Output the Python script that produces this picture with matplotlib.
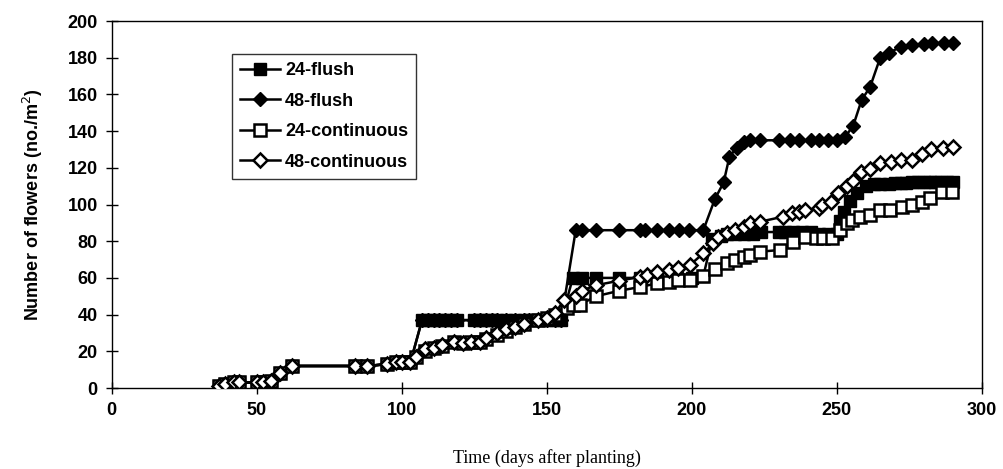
import matplotlib.pyplot as plt

# ---- data ----
early_days = [37, 39, 42, 44, 50, 52, 55, 58, 62, 84, 88, 95, 98, 100, 103]
early_vals = [1, 2, 3, 3, 3, 3, 4, 8, 12, 12, 12, 13, 14, 14, 14]

flush_mid_days = [107, 109, 111, 113, 115, 117, 119, 125, 127, 129, 131, 133, 136, 139, 142, 144, 147, 150, 153, 155]
flush_mid_vals = [37] * len(flush_mid_days)

f24_days = early_days + flush_mid_days + [159, 162, 167, 175, 182, 188, 195, 200, 204, 207, 210, 212, 215,
                                          218, 221, 224, 230, 232, 235, 238, 241, 244, 247, 250, 251, 252.5,
                                          254.5, 257, 260, 263, 265, 268, 270, 272, 274, 276, 278, 280, 282,
                                          284, 286, 288, 290]
f24_vals = early_vals + flush_mid_vals + [60, 60, 60, 60, 60, 60, 60, 60, 61, 81, 83, 84, 84,
                                          84, 84, 85, 85, 85, 85, 85, 85, 84, 84, 84, 91, 96,
                                          102, 106, 110, 111, 111, 111, 111.5, 111.5, 111.5, 112, 112, 112, 112,
                                          112, 112, 112, 112]

f48_days = early_days + flush_mid_days + [160, 162, 167, 175, 182, 184, 188, 192, 195.5, 199, 204, 208, 211,
                                          213, 215.5, 218, 220, 223.5, 230, 234, 237, 241, 244, 247, 250, 253,
                                          255.7, 258.6, 261.5, 265, 268, 272, 276, 280, 283, 287, 290]
f48_vals = early_vals + flush_mid_vals + [86, 86, 86, 86, 86, 86, 86, 86, 86, 86, 86, 103, 112,
                                          126, 131, 134, 135, 135, 135, 135, 135, 135, 135, 135, 135, 137,
                                          143, 157, 164, 180, 182.5, 186, 187, 187.5, 188, 188, 188]

c24_days = early_days + [105, 108, 111, 114, 118, 121, 124, 127, 129, 133, 136, 139, 142, 147, 150, 153, 157,
                         159, 161.5, 167, 175, 182, 188, 192, 195.4, 199.4, 204, 208, 212, 215, 218, 220,
                         223.5, 230.4, 235, 239, 243, 245.4, 248.3, 251, 253.4, 255.2, 258, 261.5, 265,
                         268.4, 272.4, 276, 279.3, 282.2, 286.2, 289.6]
c24_vals = early_vals + [17, 20, 22, 23, 25, 24.5, 25, 25, 26.5, 29, 31, 33, 35, 37, 38, 40, 43.5,
                         45, 45.5, 50, 53, 55, 57, 58, 59, 59, 61, 65, 68, 70, 71.6, 72.5,
                         74.3, 75.2, 79.7, 82.4, 81.6, 81.6, 81.6, 86, 90, 91.6, 93.4, 94.3, 97,
                         97, 98.8, 99.7, 101.5, 103.4, 107, 107]

c48_days = early_days + [105, 108, 111, 114, 118, 121, 124, 127, 129, 133, 136, 139, 142, 147, 150, 153, 156,
                         160, 162, 167, 175, 182, 184.5, 188, 192, 195.4, 199.4, 204, 207.5, 209, 212, 215,
                         218, 220, 223.5, 231.6, 234.5, 237, 239, 244, 245, 248, 250.6, 253.4, 255.5,
                         258.3, 261.5, 265, 268.7, 272, 276, 279.5, 282.5, 286.5, 290]
c48_vals = early_vals + [17, 21, 22, 23.5, 25, 24.5, 25, 25, 27, 30, 32, 33.5, 35, 37, 38, 41, 48,
                         50, 53, 56, 58.5, 60.5, 61.5, 63, 64.3, 65.2, 67, 73.4, 79, 82.4, 84.3, 86,
                         88, 89.7, 90.6, 93.4, 95.2, 96, 97, 98, 100, 101.5, 106, 110, 113,
                         117.5, 119.5, 122.5, 123, 124.5, 124.5, 127.5, 130.5, 131, 131.5]

plt.rcParams['font.family'] = ['Liberation Sans', 'DejaVu Sans']

fig = plt.figure(figsize=(10.04, 4.69), dpi=100)
ax = fig.add_axes([0.1113, 0.1727, 0.8665, 0.7825])

ms = 8
ax.plot(f24_days, f24_vals, '-', color='black', lw=1.8, marker='s', ms=ms, mfc='black', mec='black',
        label='24-flush', zorder=3)
ax.plot(f48_days, f48_vals, '-', color='black', lw=1.8, marker='D', ms=ms - 0.5, mfc='black', mec='black',
        label='48-flush', zorder=3)
ax.plot(c24_days, c24_vals, '-', color='black', lw=1.8, marker='s', ms=ms, mfc='white', mec='black',
        mew=1.8, label='24-continuous', zorder=4)
ax.plot(c48_days, c48_vals, '-', color='black', lw=1.8, marker='D', ms=ms - 0.5, mfc='white', mec='black',
        mew=1.8, label='48-continuous', zorder=5)

ax.set_xlim(0, 300)
ax.set_ylim(0, 200)
ax.set_xticks(range(0, 301, 50))
ax.set_yticks(range(0, 201, 20))
ax.tick_params(direction='inout', length=8, width=1, labelsize=13, pad=6)
for lab in ax.get_xticklabels() + ax.get_yticklabels():
    lab.set_fontweight('bold')
for sp in ax.spines.values():
    sp.set_linewidth(1)

ax.set_ylabel('Number of flowers (no./m$^2$)', fontsize=13, fontweight='bold', labelpad=16)
ax.set_xlabel('Time (days after planting)', fontsize=13, family='Liberation Serif', labelpad=22)

leg = ax.legend(loc='upper left', bbox_to_anchor=(0.138, 0.91), borderaxespad=0, frameon=True,
                fancybox=False, edgecolor='black', fontsize=13, handlelength=2.2, handletextpad=0.3,
                labelspacing=0.75, borderpad=0.45)
leg.get_frame().set_linewidth(1)
for t in leg.get_texts():
    t.set_fontweight('bold')

fig.savefig('out.png', dpi=100)
